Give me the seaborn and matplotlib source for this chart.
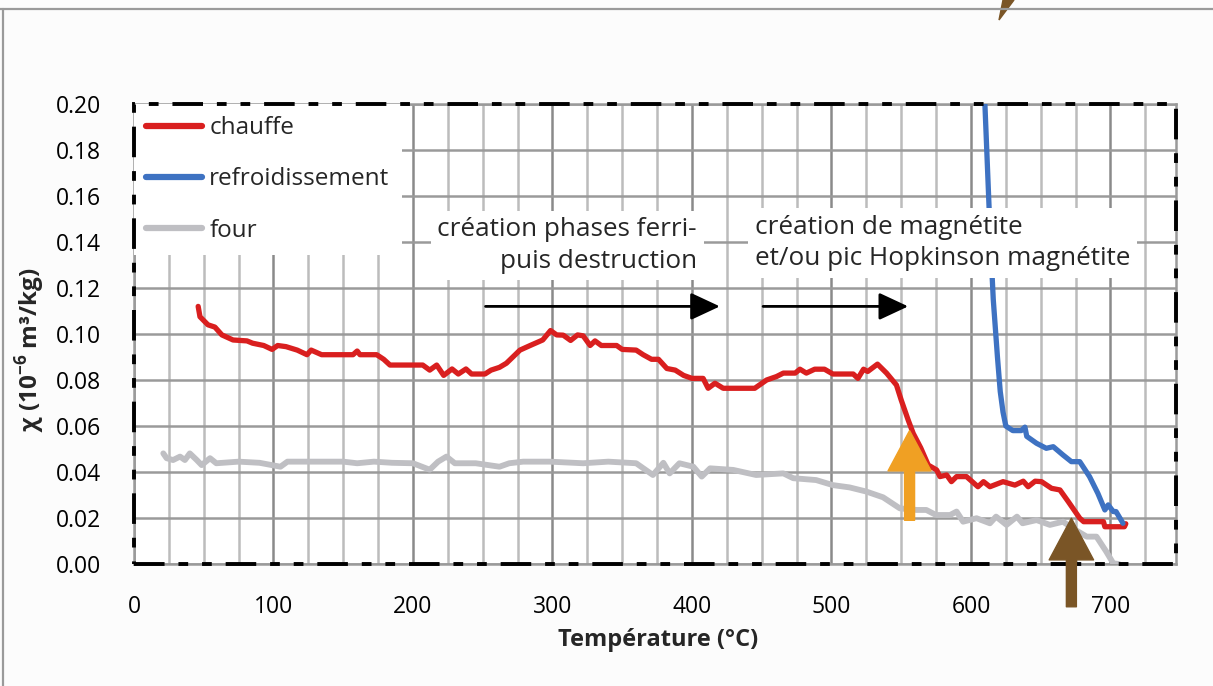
import numpy as np
import matplotlib
matplotlib.use("Agg")
import matplotlib.pyplot as plt
from matplotlib.patches import Rectangle, Polygon
from matplotlib.lines import Line2D
import seaborn as sns

# susceptibility curves
red_x = [46, 47.3, 53, 58, 63, 71, 81, 85, 93, 99, 103, 109, 117, 124, 127, 134.5, 157, 160, 162, 174,
         179, 183.5, 207, 212, 217, 222, 228, 232.5, 238, 242, 251.6, 256, 262, 267, 276.7, 284, 293,
         298.6, 303, 307.7, 313, 318, 322, 327, 330.5, 335, 346, 350, 360, 365, 371, 376, 382, 388, 394,
         400, 408, 411.6, 416.5, 422.4, 445, 453.5, 460.6, 465.5, 474, 477.4, 482, 488, 495, 501, 515.6,
         519, 523, 526, 533, 539.5, 546.6, 550, 555, 558.6, 564, 569.4, 575.4, 577.8, 582.6, 586, 589.7,
         596.8, 605, 609, 613.6, 623, 631.5, 637.5, 641, 646, 650.6, 657.8, 663.8, 669.8, 678, 680.8,
         695, 696, 710, 711]
red_y = [0.112, 0.1075, 0.104, 0.103, 0.0996, 0.0974, 0.097, 0.096, 0.095, 0.0933, 0.095, 0.0945, 0.093,
         0.091, 0.093, 0.091, 0.091, 0.0926, 0.091, 0.091, 0.089, 0.0865, 0.0865, 0.0843, 0.0865, 0.082,
         0.0848, 0.0826, 0.0848, 0.0826, 0.0826, 0.0843, 0.0855, 0.0873, 0.093, 0.095, 0.0974, 0.1015,
         0.0996, 0.0995, 0.0972, 0.0996, 0.0992, 0.095, 0.097, 0.095, 0.095, 0.0933, 0.093, 0.091, 0.089,
         0.089, 0.085, 0.0843, 0.082, 0.0807, 0.0807, 0.0764, 0.0786, 0.0764, 0.0764, 0.08, 0.0815, 0.083,
         0.083, 0.0847, 0.083, 0.0847, 0.0847, 0.0826, 0.0826, 0.0807, 0.0847, 0.0837, 0.0869, 0.083,
         0.0778, 0.0713, 0.0626, 0.0568, 0.0505, 0.043, 0.0409, 0.038, 0.0387, 0.0358, 0.038, 0.038,
         0.0336, 0.0358, 0.0336, 0.0358, 0.0343, 0.036, 0.0336, 0.036, 0.0358, 0.0329, 0.0322, 0.0271,
         0.0199, 0.0184, 0.0184, 0.0162, 0.0162, 0.0175]

blue_x = [608, 610, 612, 614, 616, 619, 621, 623, 625, 630, 636, 638.7, 640, 647, 654, 659, 666, 672,
          678, 685, 691, 696, 698.4, 702, 704, 709]
blue_y = [0.205, 0.20, 0.17, 0.14, 0.115, 0.09, 0.075, 0.066, 0.06, 0.058, 0.058, 0.0595, 0.0555,
          0.0525, 0.0503, 0.051, 0.0474, 0.0445, 0.0445, 0.038, 0.0307, 0.0235, 0.0257, 0.0228, 0.0228,
          0.0177]

four_x = [21, 23.4, 28, 33, 36.5, 40, 45, 48.5, 54.5, 59, 75, 90, 105, 110, 130, 150, 160, 172, 185,
          200, 212, 218, 224, 230, 245, 262, 269, 279, 298, 322, 340, 360, 372, 379.5, 384, 391, 401,
          407, 413, 429.6, 446, 465.5, 472.6, 489, 501, 513, 525, 537, 549, 561, 568, 575, 585, 589.7,
          594.4, 604, 613.6, 618, 625.5, 633, 637, 647, 656.6, 666, 673, 683, 690, 697, 702, 706]
four_y = [0.0481, 0.046, 0.0452, 0.0467, 0.0452, 0.0481, 0.0452, 0.043, 0.046, 0.0438, 0.0445, 0.044,
          0.0423, 0.0445, 0.0445, 0.0445, 0.0438, 0.0445, 0.044, 0.0438, 0.041, 0.0445, 0.0467, 0.0438,
          0.0438, 0.0423, 0.0438, 0.0445, 0.0445, 0.0438, 0.0445, 0.0438, 0.0387, 0.044, 0.0394, 0.0438,
          0.0423, 0.038, 0.0416, 0.0409, 0.0387, 0.0394, 0.0373, 0.0365, 0.0343, 0.0333, 0.0315, 0.029,
          0.0242, 0.0235, 0.0235, 0.0213, 0.0213, 0.0228, 0.0184, 0.0199, 0.0177, 0.0206, 0.017, 0.0206,
          0.0177, 0.0191, 0.017, 0.0184, 0.0155, 0.0119, 0.0119, 0.0054, 0.0003, 0.0]

x_ticks = [0, 100, 200, 300, 400, 500, 600, 700]
y_ticks = [0.00, 0.02, 0.04, 0.06, 0.08, 0.10, 0.12, 0.14, 0.16, 0.18, 0.20]

sns.set_theme(style="white")
plt.rcParams['font.family'] = ['Open Sans', 'DejaVu Sans']
plt.rcParams['mathtext.fontset'] = 'custom'
plt.rcParams['mathtext.rm'] = 'Open Sans'
plt.rcParams['mathtext.bf'] = 'Open Sans:bold'
plt.rcParams['lines.scale_dashes'] = False

W, H = 1213, 686
fig = plt.figure(figsize=(W / 100, H / 100), dpi=100)
fig.patch.set_facecolor('#fcfcfc')
ax = fig.add_axes([134 / W, (H - 564) / H, (1176 - 134) / W, (564 - 104) / H])
ax.set_facecolor('white')

# graph paper grid
ax.set_xlim(0, 747)
ax.set_ylim(0, 0.20)
ax.set_xticks(x_ticks)
ax.set_xticks(np.arange(25, 747, 25), minor=True)
ax.set_yticks(y_ticks)
ax.set_yticklabels([f'{v:.2f}' for v in y_ticks])
ax.grid(axis='x', which='minor', color='#bcbcbc', lw=1.8)
ax.grid(axis='x', which='major', color='#8a8a8a', lw=1.8)
ax.grid(axis='y', which='major', color='#9a9a9a', lw=1.8)
ax.set_axisbelow(True)
ax.tick_params(axis='both', which='both', length=0, labelsize=16.5, colors='black')
ax.tick_params(axis='y', pad=24)
ax.tick_params(axis='x', pad=22)
for s in ax.spines.values():
    s.set_color('#9a9a9a')
    s.set_linewidth(1.8)

lw = 3.8
sns.lineplot(x=red_x, y=red_y, ax=ax, color='#d91f1f', lw=lw, sort=False, label='chauffe', zorder=4)
sns.lineplot(x=blue_x, y=blue_y, ax=ax, color='#3e72c2', lw=lw, sort=False, label='refroidissement', zorder=4)
sns.lineplot(x=four_x, y=four_y, ax=ax, color='#bfbfc3', lw=4.2, sort=False, label='four', zorder=3)

leg = ax.legend(loc='upper left', bbox_to_anchor=(0, 1), borderaxespad=0, fontsize=17.5,
                frameon=True, fancybox=False, facecolor='white', edgecolor='none', framealpha=1,
                handlelength=2.3, handletextpad=0.3, labelspacing=1.12, borderpad=0.5)
leg.set_zorder(6)
for h in leg.get_lines():
    h.set_linewidth(4.5)
    h.set_solid_capstyle('round')

# dashed black frame on top of the grey spines
ax.add_patch(Rectangle((0, 0), 1, 1, transform=ax.transAxes, fill=False, ec='black', lw=2.8,
                       ls=(0, (22, 10, 7, 10, 7, 10)), clip_on=False, zorder=7))

# text boxes
box = dict(boxstyle='square,pad=0.25', fc='white', ec='none')
ax.text(403.6, 0.1385, 'création phases ferri-\npuis destruction', ha='right', va='center',
        multialignment='right', fontsize=18.8, linespacing=1.35, bbox=box, zorder=5)
ax.text(445, 0.1395, 'création de magnétite\net/ou pic Hopkinson magnétite', ha='left', va='center',
        multialignment='left', fontsize=18.8, linespacing=1.35, bbox=box, zorder=5)

# arrows
black = dict(arrowstyle='-|>,head_length=0.9,head_width=0.42', color='black', lw=2,
             shrinkA=0, shrinkB=0, mutation_scale=20)
ax.annotate('', xy=(420, 0.112), xytext=(252, 0.112), arrowprops=black, zorder=6)
ax.annotate('', xy=(555, 0.112), xytext=(451, 0.112), arrowprops=black, zorder=6)
ax.annotate('', xy=(556, 0.058), xytext=(556, 0.019),
            arrowprops=dict(arrowstyle='simple,head_length=2.9,head_width=3.1,tail_width=0.72',
                            color='#f0a023', shrinkA=0, shrinkB=0, mutation_scale=10), zorder=6)
ax.annotate('', xy=(672, 0.0199), xytext=(672, -0.0186), annotation_clip=False,
            arrowprops=dict(arrowstyle='simple,head_length=3.0,head_width=3.2,tail_width=0.72',
                            color='#7a5526', shrinkA=0, shrinkB=0, mutation_scale=10,
                            clip_on=False), zorder=8)

# axis titles
fig.text(658 / W, 1 - 640 / H, 'Température (°C)', ha='center', va='center', fontsize=17,
         fontweight='bold')
fig.text(30 / W, 1 - 350 / H, r'χ (10$^{\mathbf{-6}}$ m³/kg)', ha='center', va='center',
         rotation=90, fontsize=17.5, fontweight='bold')

# outer frame lines and the stray arrow tip at the top
fig.add_artist(Line2D([0, 1], [1 - 9 / H, 1 - 9 / H], transform=fig.transFigure, color='#9a9a9a', lw=1.6))
fig.add_artist(Line2D([3 / W, 3 / W], [0, 1 - 9 / H], transform=fig.transFigure, color='#9a9a9a', lw=1.6))
fig.add_artist(Polygon([(999 / W, 1 - 20 / H), (1003 / W, 1), (1014 / W, 1)], closed=True,
                       transform=fig.transFigure, color='#7a5526'))

fig.savefig('out.png', dpi=100, facecolor=fig.get_facecolor())
